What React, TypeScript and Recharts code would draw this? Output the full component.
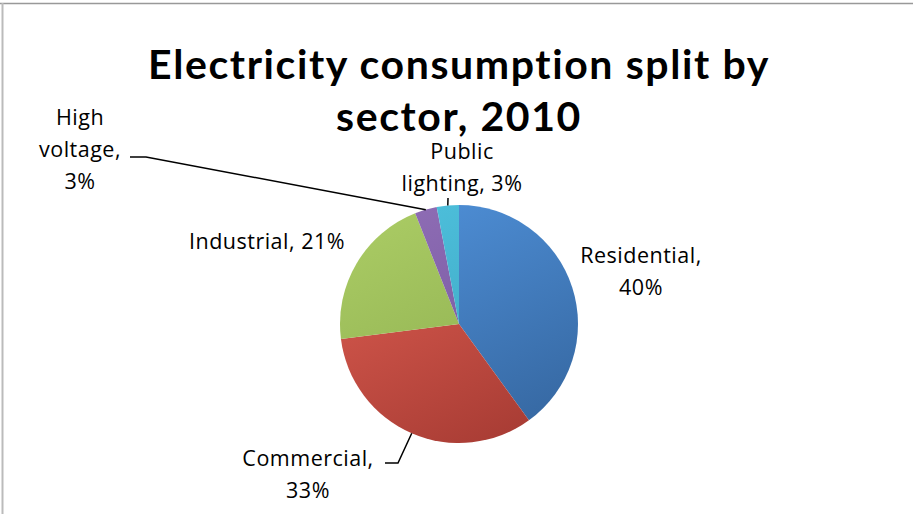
import * as React from "react"
import { PieChart, Pie, Cell } from "recharts"

const sectors = ["Residential", "Commercial", "Industrial", "High voltage", "Public lighting"]
const shares = [40, 33, 21, 3, 3]
const titleLines = ["Electricity consumption split by", "sector, 2010"]

const data = sectors.map((name, i) => ({ name, value: shares[i] }))

// gradient stops: light top, dark bottom
const colorsTop = ["#4F90D8", "#DE5E52", "#AACB64", "#8F6DB5", "#4EC0DC"]
const colorsBottom = ["#3668A2", "#A83C34", "#8CAD4E", "#71559C", "#3AA2BE"]

const W = 913
const H = 514
const CX = 459
const CY = 324
const R = 119

// label layout: words per line, offset of first line centre from pie centre, leader path offsets
const labelLayout = [
  { words: [1, 1], dx: 182, dy: -69, lead: null },
  { words: [1, 1], dx: -151, dy: 134, lead: [[-61, 139], [-74, 139]] },
  { words: [2], dx: -192, dy: -83, lead: null },
  { words: [1, 1, 1], dx: -379, dy: -207, lead: [[-313, -167], [-329, -167]] },
  { words: [1, 2], dx: 3, dy: -173, lead: [[-11, -126]] },
]

const LINE_H = 32
const LABEL_FONT = "'Open Sans', sans-serif"
const TITLE_FONT = "Lato, sans-serif"

const RAD = Math.PI / 180

function renderLabel(props: any) {
  const { cx, cy, midAngle, outerRadius, index, name, value } = props
  const cfg = labelLayout[index]
  const words = `${name}, ${value}%`.split(" ")
  const lines: string[] = []
  let k = 0
  cfg.words.forEach((n) => {
    lines.push(words.slice(k, k + n).join(" "))
    k += n
  })
  const ex = cx + outerRadius * Math.cos(-midAngle * RAD)
  const ey = cy + outerRadius * Math.sin(-midAngle * RAD)
  let path = ""
  if (cfg.lead) {
    path = `M${ex},${ey}` + cfg.lead.map(([x, y]) => ` L${cx + x},${cy + y}`).join("")
  }
  return (
    <g key={`lbl-${index}`}>
      {path && <path d={path} stroke="#000" strokeWidth={1.5} fill="none" />}
      <text
        x={cx + cfg.dx}
        y={cy + cfg.dy}
        textAnchor="middle"
        fontFamily={LABEL_FONT}
        fontSize={21.5}
        letterSpacing={0.5}
        fill="#000"
      >
        {lines.map((l, i) => (
          <tspan key={i} x={cx + cfg.dx} dy={i === 0 ? "0.35em" : LINE_H}>
            {l}
          </tspan>
        ))}
      </text>
    </g>
  )
}

export default function App() {
  return (
    <div style={{ position: "absolute", left: 0, top: 0, width: W, height: H, background: "#fff" }}>
      <PieChart width={W} height={H} margin={{ top: 0, right: 0, bottom: 0, left: 0 }}>
        <defs>
          {colorsTop.map((c, i) => (
            <linearGradient
              key={i}
              id={`g${i}`}
              gradientUnits="userSpaceOnUse"
              x1={CX - R * 0.6}
              y1={CY - R}
              x2={CX + R * 0.4}
              y2={CY + R}
            >
              <stop offset="0%" stopColor={c} />
              <stop offset="100%" stopColor={colorsBottom[i]} />
            </linearGradient>
          ))}
        </defs>
        <Pie
          data={data}
          dataKey="value"
          nameKey="name"
          cx={CX}
          cy={CY}
          outerRadius={R}
          startAngle={90}
          endAngle={-270}
          stroke="none"
          label={renderLabel}
          labelLine={false}
          isAnimationActive={false}
        >
          {data.map((d, i) => (
            <Cell key={d.name} fill={`url(#g${i})`} />
          ))}
        </Pie>
      </PieChart>
      <svg
        width={W}
        height={H}
        style={{ position: "absolute", left: 0, top: 0, pointerEvents: "none" }}
      >
        <line x1={0} y1={3.5} x2={W} y2={3.5} stroke="#999" strokeWidth={1.5} />
        <line x1={2.5} y1={3} x2={2.5} y2={H} stroke="#bbb" strokeWidth={2} />
        {titleLines.map((t, i) => (
          <text
            key={i}
            x={459}
            y={79 + i * 52}
            textAnchor="middle"
            fontFamily={TITLE_FONT}
            fontWeight="bold"
            fontSize={41}
            letterSpacing={1.6}
            fill="#000"
          >
            {t}
          </text>
        ))}
      </svg>
    </div>
  )
}
